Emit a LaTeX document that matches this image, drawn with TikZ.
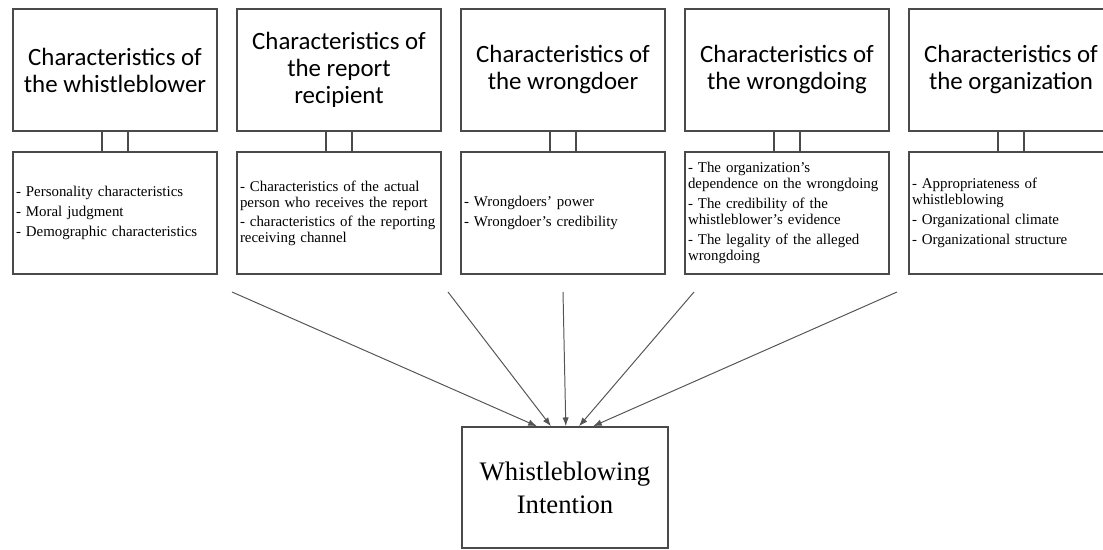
\documentclass[tikz,border=0pt]{standalone}
\usepackage{fontspec}
\setmainfont{Liberation Serif}
\newfontfamily\headfont{Carlito}
\usetikzlibrary{arrows.meta}
\definecolor{frame-gray}{HTML}{4A4A4A}
\definecolor{arrow-gray}{HTML}{555555}

\begin{document}
\begin{tikzpicture}[
      every node/.style={inner sep=0pt},
      headbox/.style={draw=frame-gray, line width=0.9pt, fill=white,
          minimum width=5.1cm, minimum height=3.05cm, align=center,
          font=\headfont\fontsize{17.7}{19.2}\selectfont},
      listbox/.style={draw=frame-gray, line width=0.9pt, fill=white,
          minimum width=5.1cm, minimum height=3.05cm, text width=4.95cm, align=left,
          font=\fontsize{10.6}{11.4}\selectfont},
      linkbox/.style={draw=frame-gray, line width=0.9pt,
          minimum width=0.65cm, minimum height=0.525cm},
      arrow/.style={draw=arrow-gray, line width=0.7pt, -{Latex[length=2.2mm, width=1.6mm]}}]

    \useasboundingbox (0,0) rectangle (27.575,13.75);

    % factor headings (top row)
    \node[headbox] (head1) at (2.875,12.0) {Characteristics of\\the whistleblower};
    \node[headbox] (head2) at (8.475,12.0) {Characteristics of\\the report\\recipient};
    \node[headbox] (head3) at (14.075,12.0) {Characteristics of\\the wrongdoer};
    \node[headbox] (head4) at (19.675,12.0) {Characteristics of\\the wrongdoing};
    \node[headbox] (head5) at (25.275,12.0) {Characteristics of\\the organization};

    % little joints between heading and list
    \node[linkbox] (link1) at (2.875,10.2125) {};
    \node[linkbox] (link2) at (8.475,10.2125) {};
    \node[linkbox] (link3) at (14.075,10.2125) {};
    \node[linkbox] (link4) at (19.675,10.2125) {};
    \node[linkbox] (link5) at (25.275,10.2125) {};

    % item lists (second row)
    \node[listbox] (list1) at (2.875,8.425) {- Personality characteristics\\[3pt]
        - Moral judgment\\[3pt]
        - Demographic characteristics};
    \node[listbox] (list2) at (8.475,8.425) {- Characteristics of the actual\\person who receives the report\\[2pt]
        - characteristics of the reporting\\receiving channel};
    \node[listbox] (list3) at (14.075,8.425) {- Wrongdoers' power\\[3pt]
        - Wrongdoer's credibility};
    \node[listbox] (list4) at (19.675,8.425) {- The organization's\\dependence on the wrongdoing\\[3pt]
        - The credibility of the\\whistleblower's evidence\\[3pt]
        - The legality of the alleged\\wrongdoing};
    \node[listbox] (list5) at (25.275,8.425) {- Appropriateness of\\whistleblowing\\[3pt]
        - Organizational climate\\[3pt]
        - Organizational structure};

    % outcome
    \node[draw=frame-gray, line width=0.9pt, minimum width=5.15cm, minimum height=3.03cm,
          align=center, font=\fontsize{19}{23.5}\selectfont] (intent) at (14.125,1.5625)
          {Whistleblowing\\Intention};

    % arrows start below the lists, all meet on top of the outcome box
    \coordinate (from1) at (5.8,6.45);
    \coordinate (from2) at (11.2,6.45);
    \coordinate (from3) at (14.075,6.45);
    \coordinate (from4) at (17.35,6.45);
    \coordinate (from5) at (22.425,6.45);
    \draw[arrow] (from1) -- ([xshift=-0.7cm]intent.north);
    \draw[arrow] (from2) -- ([xshift=-0.35cm]intent.north);
    \draw[arrow] (from3) -- ([xshift=0.02cm]intent.north);
    \draw[arrow] (from4) -- ([xshift=0.35cm]intent.north);
    \draw[arrow] (from5) -- ([xshift=0.7cm]intent.north);
\end{tikzpicture}
\end{document}
